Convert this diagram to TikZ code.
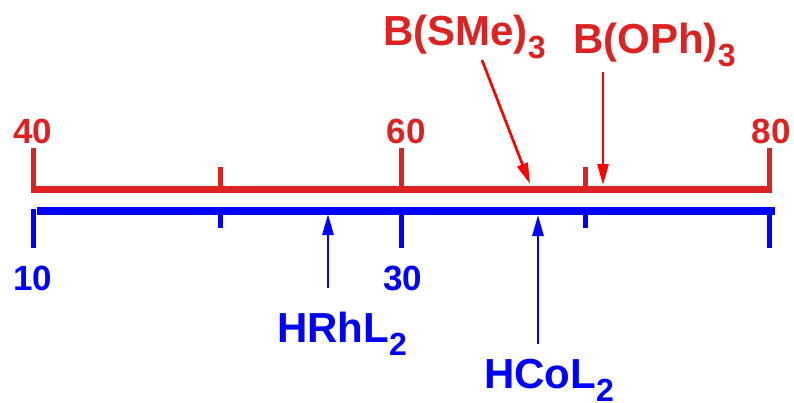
\documentclass[tikz,border=0pt]{standalone}
\usepackage{fontspec}
\setmainfont{Liberation Sans}
\usetikzlibrary{arrows.meta}
\definecolor{axisred}{RGB}{221,34,34}
\definecolor{axisblue}{RGB}{0,0,255}
\definecolor{arrowred}{RGB}{255,0,0}
% lowered, smaller digit for chemical formulae
\newcommand{\chemsub}[1]{\raisebox{-13pt}{\fontsize{32}{32}\selectfont #1}}

\begin{document}
\begin{tikzpicture}[x=1pt,y=-1pt,
  scalelabel/.style={font=\fontsize{35}{35}\selectfont\bfseries, inner sep=0pt, anchor=base},
  chemlabel/.style={font=\fontsize{42}{42}\selectfont\bfseries, inner sep=0pt, anchor=base west},
  axisline/.style={line width=7.5pt},
  tickline/.style={line width=5pt},
  pointer/.style={line width=2.7pt, -{Triangle[length=21pt,width=11pt]}},
]
\useasboundingbox (0,0) rectangle (794,402);

% upper (red) scale
\draw[axisred, axisline] (31,189.5) -- (772,189.5);
\foreach \x in {33.5,401.5,769.5}
  \draw[axisred, tickline] (\x,148) -- (\x,189);
\foreach \x in {220.5,585.5}
  \draw[axisred, tickline] (\x,167) -- (\x,189);
\node[scalelabel, text=axisred] (r40) at (32.5,143) {40};
\node[scalelabel, text=axisred] (r60) at (406,143) {60};
\node[scalelabel, text=axisred] (r80) at (771,143) {80};

% lower (blue) scale
\draw[axisblue, axisline] (37,211) -- (775,211);
\foreach \x in {33.5,401.5,769.5}
  \draw[axisblue, tickline] (\x,209) -- (\x,248);
\foreach \x in {220.5,585.5}
  \draw[axisblue, tickline] (\x,211) -- (\x,228);
\node[scalelabel, text=axisblue] (b10) at (33,290) {10};
\node[scalelabel, text=axisblue] (b30) at (402.5,290) {30};

% compound labels
\node[chemlabel, text=axisred] (sme) at (383,45) {B(SMe)\chemsub{3}};
\node[chemlabel, text=axisred] (oph) at (573,53) {B(OPh)\chemsub{3}};
\node[chemlabel, text=axisblue] (rh) at (277,342) {HRhL\chemsub{2}};
\node[chemlabel, text=axisblue] (co) at (484,388) {HCoL\chemsub{2}};

% pointer ends
\coordinate (smeA) at (482,60);
\coordinate (smeB) at (530,184);
\coordinate (ophA) at (603,72);
\coordinate (ophB) at (603,185);
\coordinate (rhA) at (328,288);
\coordinate (rhB) at (328,214);
\coordinate (coA) at (538,344);
\coordinate (coB) at (538,215);

\draw[pointer, arrowred] (smeA) -- (smeB);
\draw[pointer, arrowred] (ophA) -- (ophB);
\draw[pointer, axisblue] (rhA) -- (rhB);
\draw[pointer, axisblue] (coA) -- (coB);
\end{tikzpicture}
\end{document}
